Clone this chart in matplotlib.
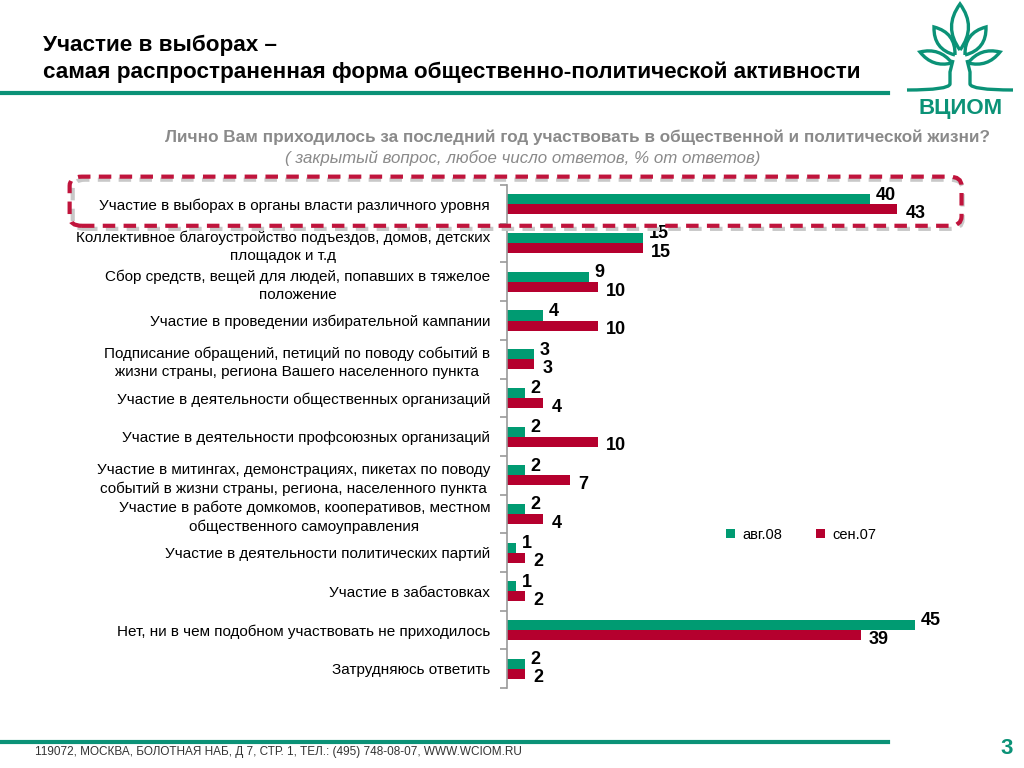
import numpy as np
import matplotlib
matplotlib.use("Agg")
import matplotlib.pyplot as plt
from matplotlib.patches import FancyBboxPatch, PathPatch
from matplotlib.path import Path
from matplotlib.lines import Line2D

plt.rcParams['font.family'] = ['Liberation Sans', 'DejaVu Sans']

categories = [
    "Участие в выборах в органы власти различного уровня",
    "Коллективное благоустройство подъездов, домов, детских\nплощадок и т.д",
    "Сбор средств, вещей для людей, попавших в тяжелое\nположение",
    "Участие в проведении избирательной кампании",
    "Подписание обращений, петиций по поводу событий в\nжизни страны, региона Вашего населенного пункта",
    "Участие в деятельности общественных организаций",
    "Участие в деятельности профсоюзных организаций",
    "Участие в митингах, демонстрациях, пикетах по поводу\nсобытий в жизни страны, региона, населенного пункта",
    "Участие в работе домкомов, кооперативов, местном\nобщественного самоуправления",
    "Участие в деятельности политических партий",
    "Участие в забастовках",
    "Нет, ни в чем подобном участвовать не приходилось",
    "Затрудняюсь ответить",
]
aug08 = [40, 15, 9, 4, 3, 2, 2, 2, 2, 1, 1, 45, 2]
sep07 = [43, 15, 10, 10, 3, 4, 10, 7, 4, 2, 2, 39, 2]
series_names = ["авг.08", "сен.07"]

GREEN = "#009B72"
RED = "#B5002E"
TEAL = "#0B9277"
GRAY = "#8A8A8A"

fig = plt.figure(figsize=(10.24, 7.68), dpi=100)
ax = fig.add_axes([0.495, 0.104, 0.443, 0.655])

y = np.arange(len(categories))
h = 0.26
ax.barh(y - h / 2, aug08, height=h, color=GREEN, label=series_names[0])
ax.barh(y + h / 2, sep07, height=h, color=RED, label=series_names[1])

for i in range(len(categories)):
    ax.annotate(str(aug08[i]), (aug08[i], y[i] - h / 2), xytext=(4, 3), textcoords="offset points",
                ha="left", va="center", fontsize=13, fontweight="bold", color="black")
    ax.annotate(str(sep07[i]), (sep07[i], y[i] + h / 2), xytext=(6, -3), textcoords="offset points",
                ha="left", va="center", fontsize=13, fontweight="bold", color="black")

ax.set_xlim(0, 50)
ax.set_ylim(len(categories) - 0.5, -0.5)
for s in ["top", "right", "bottom"]:
    ax.spines[s].set_visible(False)
ax.spines["left"].set_color("#9A9A9A")
ax.spines["left"].set_linewidth(1.2)
ax.set_xticks([])
ax.set_yticks(y)
ax.set_yticklabels(categories, fontsize=11, linespacing=1.4, multialignment="center")
ax.tick_params(axis="y", which="major", length=0, pad=12)
ax.set_yticks(np.arange(-0.5, len(categories) + 0.5, 1), minor=True)
ax.tick_params(axis="y", which="minor", length=5, color="#9A9A9A", width=1.2)

leg = ax.legend(loc="center left", bbox_to_anchor=(0.455, 0.305), ncol=2, frameon=False,
                fontsize=10.5, handlelength=0.6, handleheight=0.6, handletextpad=0.5, columnspacing=2.3)

# highlight box around first row
shadow = FancyBboxPatch((0.071, 0.702), 0.869, 0.064, boxstyle="round,pad=0,rounding_size=0.012",
                        transform=fig.transFigure, fill=False, edgecolor="#C8C8C8", linewidth=3,
                        linestyle=(0, (3, 2)), zorder=1)
fig.patches.append(shadow)
box = FancyBboxPatch((0.068, 0.706), 0.871, 0.064, boxstyle="round,pad=0,rounding_size=0.012",
                     transform=fig.transFigure, fill=False, edgecolor="#C0143C", linewidth=3,
                     linestyle=(0, (3, 2)), zorder=2)
fig.patches.append(box)

# title and header
fig.text(0.042, 0.941, "Участие в выборах –", fontsize=16.2, fontweight="bold", va="center")
fig.text(0.042, 0.906, "самая распространенная форма общественно-политической активности",
         fontsize=16.2, fontweight="bold", va="center")
fig.add_artist(Line2D([0, 0.867], [0.879, 0.879], color=TEAL, linewidth=3, transform=fig.transFigure))

fig.text(0.967, 0.821, "Лично Вам приходилось за последний год участвовать в общественной и политической жизни?",
         fontsize=12.3, fontweight="bold", color=GRAY, ha="right", va="center")
fig.text(0.51, 0.794, "( закрытый вопрос, любое число ответов, % от ответов)",
         fontsize=12.2, style="italic", color=GRAY, ha="center", va="center")

# footer
fig.add_artist(Line2D([0, 0.867], [0.034, 0.034], color=TEAL, linewidth=3, transform=fig.transFigure))
fig.text(0.034, 0.021, "119072, МОСКВА, БОЛОТНАЯ НАБ, Д 7, СТР. 1, ТЕЛ.: (495) 748-08-07, WWW.WCIOM.RU",
         fontsize=8.5, color="#333333", va="center")
fig.text(0.983, 0.026, "3", fontsize=16, fontweight="bold", color=TEAL, ha="center", va="center")


# logo
def leaf(x0, y0, x1, y1, w):
    # pointed leaf from (x0,y0) to (x1,y1) in pixels
    dx, dy = x1 - x0, y1 - y0
    nx, ny = -dy, dx
    n = np.hypot(nx, ny)
    nx, ny = nx / n * w, ny / n * w
    mx, my = (x0 + x1) / 2, (y0 + y1) / 2
    verts = [(x0, y0), (mx + nx, my + ny), (x1, y1), (mx - nx, my - ny), (x0, y0)]
    codes = [Path.MOVETO, Path.CURVE3, Path.CURVE3, Path.CURVE3, Path.CURVE3]
    verts = [(vx / 1024, 1 - vy / 768) for vx, vy in verts]
    p = PathPatch(Path(verts, codes), transform=fig.transFigure, fill=False,
                  edgecolor=TEAL, linewidth=2.4)
    fig.patches.append(p)


leaf(960, 50, 960, 4, 17)
leaf(955, 55, 934, 27, 14)
leaf(965, 55, 986, 27, 14)
leaf(952, 63, 920, 52, 11)
leaf(968, 63, 1000, 52, 11)

stem_l = Path([(953 / 1024, 1 - 60 / 768), (950 / 1024, 1 - 72 / 768), (950 / 1024, 1 - 84 / 768),
               (949 / 1024, 1 - 90 / 768), (907 / 1024, 1 - 90 / 768)],
              [Path.MOVETO, Path.LINETO, Path.LINETO, Path.CURVE3, Path.CURVE3])
stem_r = Path([(967 / 1024, 1 - 60 / 768), (970 / 1024, 1 - 72 / 768), (970 / 1024, 1 - 84 / 768),
               (971 / 1024, 1 - 90 / 768), (1013 / 1024, 1 - 90 / 768)],
              [Path.MOVETO, Path.LINETO, Path.LINETO, Path.CURVE3, Path.CURVE3])
for sp in (stem_l, stem_r):
    fig.patches.append(PathPatch(sp, transform=fig.transFigure, fill=False, edgecolor=TEAL, linewidth=2.4))
fig.text(0.938, 0.859, "ВЦИОМ", fontsize=16, fontweight="bold", color=TEAL, ha="center", va="center")

fig.savefig("out.png", dpi=100)
